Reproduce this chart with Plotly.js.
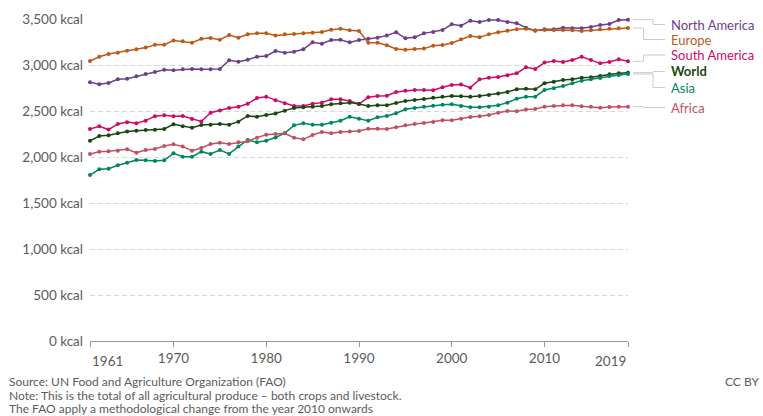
<!DOCTYPE html>
<html><head><meta charset="utf-8">
<script src="https://cdn.plot.ly/plotly-3.0.1.min.js"></script>
<style>body{margin:0;background:#fff}#c{width:763px;height:416px}</style>
</head><body><div id="c"></div>
<script>
var years = [];
for (var y = 1961; y <= 2019; y++) years.push(y);

var northAmerica = [2812,2790,2804,2844,2851,2877,2902,2924,2949,2942,2953,2957,2953,2953,2957,3051,3036,3058,3090,3098,
  3152,3134,3145,3171,3246,3232,3272,3275,3246,3272,3286,3297,3322,3355,3290,3301,3344,3359,3380,3442,
  3427,3482,3468,3489,3489,3468,3453,3406,3373,3388,3388,3406,3399,3399,3413,3435,3446,3489,3493];
var europe = [3044,3090,3120,3134,3156,3171,3189,3221,3221,3265,3257,3242,3286,3294,3275,3326,3297,3333,3344,3344,
  3322,3333,3337,3344,3351,3359,3384,3395,3377,3370,3242,3242,3214,3174,3167,3174,3178,3210,3218,3239,
  3279,3315,3301,3333,3355,3373,3388,3395,3377,3380,3380,3380,3377,3370,3377,3388,3395,3399,3402];
var southAmerica = [2305,2333,2298,2359,2379,2366,2395,2444,2455,2444,2446,2413,2386,2482,2506,2533,2547,2578,2641,2656,
  2618,2584,2554,2554,2580,2591,2627,2627,2609,2576,2649,2663,2667,2707,2721,2728,2728,2725,2758,2783,
  2787,2754,2844,2862,2870,2888,2910,2975,2957,3026,3044,3033,3055,3090,3055,3018,3033,3062,3040];
var world = [2177,2228,2236,2258,2276,2286,2294,2297,2304,2355,2333,2319,2348,2351,2359,2351,2384,2446,2438,2457,
  2472,2504,2533,2540,2547,2554,2573,2584,2591,2576,2554,2562,2562,2587,2609,2620,2631,2645,2656,2663,
  2661,2656,2663,2674,2689,2707,2736,2743,2736,2801,2819,2837,2844,2862,2866,2881,2899,2910,2917];
var asia = [1804,1866,1873,1910,1938,1967,1964,1957,1964,2040,2004,2004,2058,2033,2076,2033,2113,2185,2160,2177,
  2212,2261,2344,2366,2351,2351,2373,2395,2438,2417,2395,2431,2446,2475,2519,2533,2547,2558,2569,2573,
  2554,2540,2540,2547,2562,2591,2634,2656,2656,2728,2746,2772,2801,2830,2844,2859,2881,2892,2902];
var africa = [2033,2058,2062,2069,2084,2047,2076,2087,2120,2138,2113,2069,2098,2142,2156,2142,2160,2171,2210,2243,
  2250,2258,2210,2192,2239,2272,2258,2272,2276,2283,2308,2308,2304,2323,2344,2359,2370,2381,2399,2399,
  2415,2435,2442,2457,2482,2500,2497,2515,2522,2547,2554,2562,2562,2551,2547,2536,2544,2547,2547];

var seriesNames = ["North America","Europe","South America","World","Asia","Africa"];
var seriesValues = [northAmerica, europe, southAmerica, world, asia, africa];
var xTickVals = [1961,1970,1980,1990,2000,2010,2019];
var xTickText = ["1961","1970","1980","1990","2000","2010","2019"];
var yTickVals = [0,500,1000,1500,2000,2500,3000,3500];
var yTickText = ["0 kcal","500 kcal","1,000 kcal","1,500 kcal","2,000 kcal","2,500 kcal","3,000 kcal","3,500 kcal"];
var footerLines = ["Source: UN Food and Agriculture Organization (FAO)",
  "Note: This is the total of all agricultural produce \u2013 both crops and livestock.",
  "The FAO apply a methodological change from the year 2010 onwards"];
var licence = "CC BY";

// styling / layout (not data)
var colors = ["#6D3E91","#C05917","#CF0A66","#18470F","#00875E","#C15065"];
var labelY = [3440,3277,3109,2930,2755,2538];
var elbowX = [1.0465,1.0288,1.0288,1.0465,1.0465,1.0288];
var FONT = "Lato, 'Open Sans', sans-serif";
var GREY = "#5b5b5b";

var traces = seriesNames.map(function(n, i){
  return {x: years, y: seriesValues[i], name: n, type: "scatter", mode: "lines+markers",
    line: {color: colors[i], width: 1.5}, marker: {color: colors[i], size: 4},
    cliponaxis: false, showlegend: false, hoverinfo: "skip"};
});

var annotations = [];
var shapes = [];
seriesNames.forEach(function(n, i){
  annotations.push({xref: "paper", yref: "y", x: 1.078, y: labelY[i],
    text: n === "World" ? "<b>" + n + "</b>" : n, showarrow: false, borderpad: 0,
    xanchor: "left", yanchor: "middle", font: {family: FONT, size: 13, color: colors[i]}});
  var last = seriesValues[i][seriesValues[i].length - 1];
  shapes.push({type: "path", xref: "paper", yref: "y",
    path: "M 1.0093," + last + " L " + elbowX[i] + "," + last + " L " + elbowX[i] + "," + labelY[i] + " L 1.0688," + labelY[i],
    line: {color: "#cccccc", width: 1}});
});
// first and last x tick labels are aligned to the plot edges
annotations.push({xref: "x", yref: "paper", x: xTickVals[0], y: -0.03, text: xTickText[0], showarrow: false,
  xanchor: "left", yanchor: "top", font: {family: FONT, size: 13.5, color: GREY}});
annotations.push({xref: "x", yref: "paper", x: xTickVals[xTickVals.length-1], y: -0.03, text: xTickText[xTickText.length-1], showarrow: false,
  xanchor: "right", yanchor: "top", font: {family: FONT, size: 13.5, color: GREY}});
footerLines.forEach(function(t, i){
  annotations.push({xref: "paper", yref: "paper", x: -0.1524, y: -0.1273 - i*0.0405, text: t, showarrow: false,
    borderpad: 0, xanchor: "left", yanchor: "middle", font: {family: FONT, size: 12, color: GREY}});
});
annotations.push({xref: "paper", yref: "paper", x: 1.2454, y: -0.1273, text: licence, showarrow: false,
  borderpad: 0, xanchor: "right", yanchor: "middle", font: {family: FONT, size: 12, color: GREY}});

var tt = xTickText.slice(); tt[0] = ""; tt[tt.length-1] = "";

var layout = {
  width: 763, height: 416,
  margin: {l: 90, r: 135, t: 19, b: 75, pad: 0},
  paper_bgcolor: "#fff", plot_bgcolor: "#fff",
  font: {family: FONT, color: GREY},
  xaxis: {range: [1961, 2019], tickvals: xTickVals, ticktext: tt, showgrid: false, zeroline: false,
    showline: true, linecolor: "#999", linewidth: 1, ticks: "outside", ticklen: 5, tickcolor: "#999",
    tickfont: {family: FONT, size: 13.5, color: GREY}},
  yaxis: {range: [0, 3500], tickvals: yTickVals, ticktext: yTickText,
    showgrid: true, gridcolor: "#d9d9d9", griddash: "5px,3px", zeroline: false, showline: false,
    ticks: "", ticklabelstandoff: 6, tickfont: {family: FONT, size: 13.5, color: GREY}},
  annotations: annotations, shapes: shapes
};
Plotly.newPlot("c", traces, layout, {displayModeBar: false, staticPlot: true});
</script></body></html>
